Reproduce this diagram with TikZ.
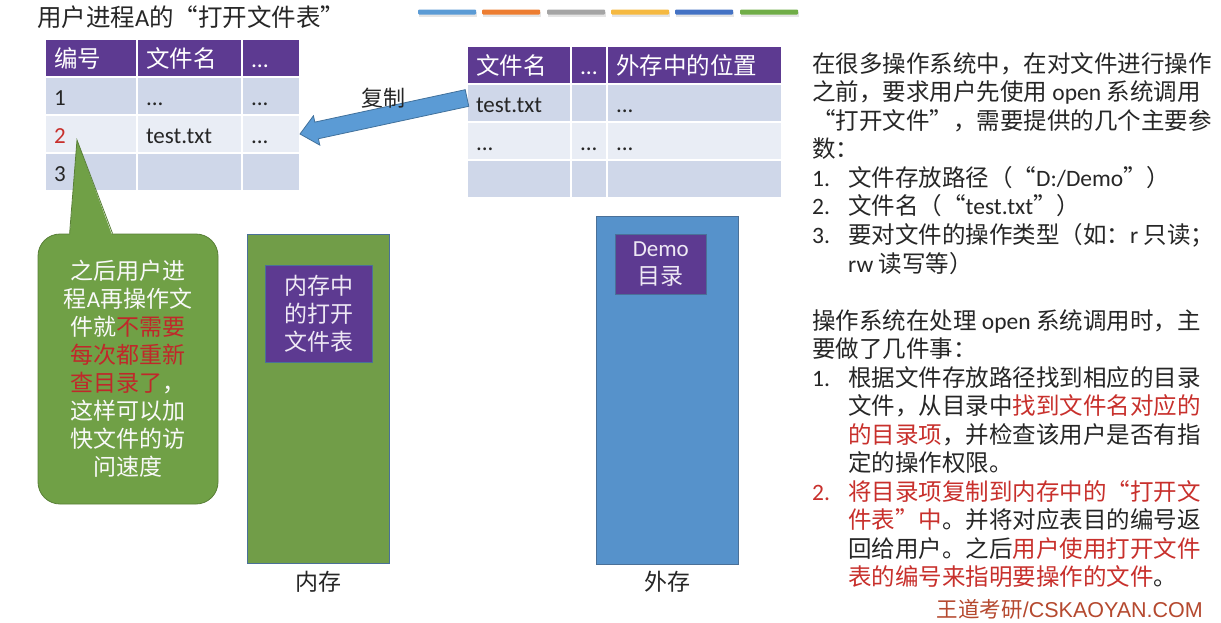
\documentclass[tikz,border=0pt]{standalone}
\usepackage{fontspec}
\setmainfont{Noto Sans CJK SC}
\newfontfamily\latin{Carlito}
\newfontfamily\logofont{Liberation Sans}
\usepackage{xcolor}
\usetikzlibrary{positioning,calc}

\newcommand{\en}[1]{{\latin #1}}
\newcommand{\redt}[1]{\textcolor{txtred}{#1}}
\newcommand{\notered}[1]{\textcolor{notered}{#1}}

\definecolor{hdpurple}{HTML}{5D3A91}
\definecolor{rowodd}{HTML}{CFD7E9}
\definecolor{roweven}{HTML}{E9EDF5}
\definecolor{memgreen}{HTML}{719D48}
\definecolor{diskblue}{HTML}{5692CB}
\definecolor{boxedge}{HTML}{4A7098}
\definecolor{notegreen}{HTML}{70A046}
\definecolor{noteedge}{HTML}{587F36}
\definecolor{arrowblue}{HTML}{5B9BD5}
\definecolor{arrowedge}{HTML}{41719C}
\definecolor{txtred}{HTML}{C8302C}
\definecolor{notered}{HTML}{C0282A}
\definecolor{txtgray}{HTML}{262626}
\definecolor{boxtext}{HTML}{EEE8F4}
\definecolor{logored}{HTML}{B5492F}
\definecolor{barA}{HTML}{5B9BD5}
\definecolor{barB}{HTML}{ED7D31}
\definecolor{barC}{HTML}{A5A5A5}
\definecolor{barD}{HTML}{F5B941}
\definecolor{barE}{HTML}{4472C4}
\definecolor{barF}{HTML}{70AD47}

\begin{document}
\begin{tikzpicture}[x=1pt, y=-1pt,
    cell/.style={rectangle, draw=white, line width=1.5pt, outer sep=0pt, inner xsep=9pt, inner ysep=0pt, minimum height=38pt, text height=21pt, text depth=3pt, align=left, text=txtgray, font=\fontsize{23}{27}\selectfont},
    head/.style={cell, fill=hdpurple, text=white, font=\fontsize{23.5}{27}\selectfont},
    oddrow/.style={cell, fill=rowodd},
    evenrow/.style={cell, fill=roweven},
    colnum/.style={text width=74pt},
    colname/.style={text width=87pt},
    colmore/.style={text width=40pt},
    rname/.style={text width=86pt},
    rmore/.style={text width=18pt},
    rpos/.style={text width=157pt},
    store/.style={rectangle, draw=boxedge, line width=0.8pt, minimum width=142pt},
    tbl/.style={rectangle, draw=boxedge, line width=0.6pt, fill=hdpurple, text=boxtext, align=center, font=\fontsize{23}{28}\selectfont},
    lbl/.style={text=txtgray, font=\fontsize{23}{28}\selectfont},
    note/.style={rectangle, rounded corners=22pt, draw=noteedge, line width=0.8pt, fill=notegreen, minimum width=180pt, minimum height=270pt, align=center, text=white!95!gray, font=\fontsize{23}{28}\selectfont},
    txt/.style={inner sep=0pt, text=txtgray, font=\fontsize{23.5}{28.5}\selectfont}
]
\useasboundingbox (0,0) rectangle (1221,622);
\fill[white] (0,0) rectangle (1221,622);

% colour bars on top
\foreach \bx/\bc in {418/barA,482/barB,547/barC,611/barD,675/barE,740/barF}{
  \fill[black!10] (\bx+0.5,11.5) rectangle ++(58,5);
  \fill[\bc, rounded corners=1pt] (\bx,9.5) rectangle ++(58,5);
}

\node[anchor=west, inner sep=0pt, text=txtgray, font=\fontsize{24.5}{28}\selectfont] (title) at (37,17) {用户进程\en{A}的“打开文件表”};

% open file table of process A
\node[head, colnum, anchor=north west] (lh1) at (45,39) {编号};
\node[head, colname, right=0pt of lh1] (lh2) {文件名};
\node[head, colmore, right=0pt of lh2] (lh3) {\en{...}};
\node[oddrow, colnum, below=0pt of lh1] (l11) {\en{1}};
\node[oddrow, colname, right=0pt of l11] (l12) {\en{...}};
\node[oddrow, colmore, right=0pt of l12] (l13) {\en{...}};
\node[evenrow, colnum, below=0pt of l11] (l21) {\redt{\en{2}}};
\node[evenrow, colname, right=0pt of l21] (l22) {\en{test.txt}};
\node[evenrow, colmore, right=0pt of l22] (l23) {\en{...}};
\node[oddrow, colnum, below=0pt of l21] (l31) {\en{3}};
\node[oddrow, colname, right=0pt of l31] (l32) {};
\node[oddrow, colmore, right=0pt of l32] (l33) {};

% directory table
\node[head, rname, anchor=north west] (rh1) at (467,46) {文件名};
\node[head, rmore, right=0pt of rh1] (rh2) {\en{...}};
\node[head, rpos, right=0pt of rh2] (rh3) {外存中的位置};
\node[oddrow, rname, below=0pt of rh1] (r11) {\en{test.txt}};
\node[oddrow, rmore, right=0pt of r11] (r12) {};
\node[oddrow, rpos, right=0pt of r12] (r13) {\en{...}};
\node[evenrow, rname, below=0pt of r11] (r21) {\en{...}};
\node[evenrow, rmore, right=0pt of r21] (r22) {\en{...}};
\node[evenrow, rpos, right=0pt of r22] (r23) {\en{...}};
\node[oddrow, rname, below=0pt of r21] (r31) {};
\node[oddrow, rmore, right=0pt of r31] (r32) {};
\node[oddrow, rpos, right=0pt of r32] (r33) {};

% copy arrow
\coordinate (cpyfrom) at ([yshift=5pt]r11.west);
\coordinate (cpyto) at (l23.east);
\coordinate (cpyhead) at ($(cpyto)!17pt!(cpyfrom)$);
\draw[draw=arrowedge, fill=arrowblue, line width=0.8pt]
  ($(cpyfrom)!8.5pt!90:(cpyto)$) -- ($(cpyhead)!8.5pt!90:(cpyto)$)
  -- ($(cpyhead)!15pt!90:(cpyto)$) -- (cpyto)
  -- ($(cpyhead)!15pt!-90:(cpyto)$) -- ($(cpyhead)!8.5pt!-90:(cpyto)$)
  -- ($(cpyfrom)!8.5pt!-90:(cpyto)$) -- cycle;
\path (cpyfrom) -- (cpyto) node[pos=0.5, yshift=18pt, lbl, font=\fontsize{22}{26}\selectfont] (cpylbl) {复制};

% callout
\coordinate (tip) at (77,140);
\node[note] (note) at (128,369) {之后用户进\\程\en{A}再操作文\\件就\notered{不需要}\\\notered{每次都重新}\\\notered{查目录了}，\\这样可以加\\快文件的访\\问速度};
\fill[notegreen] ([xshift=32pt,yshift=-3pt]note.north west) -- (tip) -- ([xshift=75pt,yshift=-3pt]note.north west) -- cycle;
\draw[noteedge, line width=0.8pt] ([xshift=32pt]note.north west) -- (tip) -- ([xshift=75pt]note.north west);

% memory and disk
\node[store, fill=memgreen, minimum height=329pt, anchor=north west] (mem) at (247,234) {};
\node[tbl, minimum width=107pt, minimum height=97pt, anchor=north west] (memtab) at ([xshift=18pt,yshift=-31pt]mem.north west) {内存中\\的打开\\文件表};
\node[lbl, below=4pt of mem] (memlbl) {内存};
\node[store, fill=diskblue, minimum height=348pt, anchor=north west] (disk) at (596,216) {};
\node[tbl, minimum width=91pt, minimum height=60pt, anchor=north west] (demo) at ([xshift=19pt,yshift=-18pt]disk.north west) {\en{Demo}\\目录};
\node[lbl, below=3pt of disk] (disklbl) {外存};

% explanation on the right
\node[txt, anchor=north west] (steps) at (812,52) {%
\begin{tabular}{@{}p{36pt}@{}l@{}}
\multicolumn{2}{@{}l@{}}{在很多操作系统中，在对文件进行操作}\\
\multicolumn{2}{@{}l@{}}{之前，要求用户先使用 \en{open} 系统调用}\\
\multicolumn{2}{@{}l@{}}{“打开文件”，需要提供的几个主要参}\\
\multicolumn{2}{@{}l@{}}{数：}\\
\en{1.} & 文件存放路径（“\en{D:/Demo}”）\\
\en{2.} & 文件名（“\en{test.txt}”）\\
\en{3.} & 要对文件的操作类型（如：\en{r} 只读；\\
 & \en{rw} 读写等）\\
\\
\multicolumn{2}{@{}l@{}}{操作系统在处理 \en{open} 系统调用时，主}\\
\multicolumn{2}{@{}l@{}}{要做了几件事：}\\
\en{1.} & 根据文件存放路径找到相应的目录\\
 & 文件，从目录中\redt{找到文件名对应的}\\
 & \redt{的目录项}，并检查该用户是否有指\\
 & 定的操作权限。\\
\redt{\en{2.}} & \redt{将目录项复制到内存中的“打开文}\\
 & \redt{件表”中}。并将对应表目的编号返\\
 & 回给用户。之后\redt{用户使用打开文件}\\
 & \redt{表的编号来指明要操作的文件}。
\end{tabular}};

\node[anchor=east, inner sep=0pt, text=logored, font=\fontsize{21.5}{25}\selectfont] (logo) at (1203,609) {王道考研{\logofont /CSKAOYAN.COM}};
\end{tikzpicture}
\end{document}
